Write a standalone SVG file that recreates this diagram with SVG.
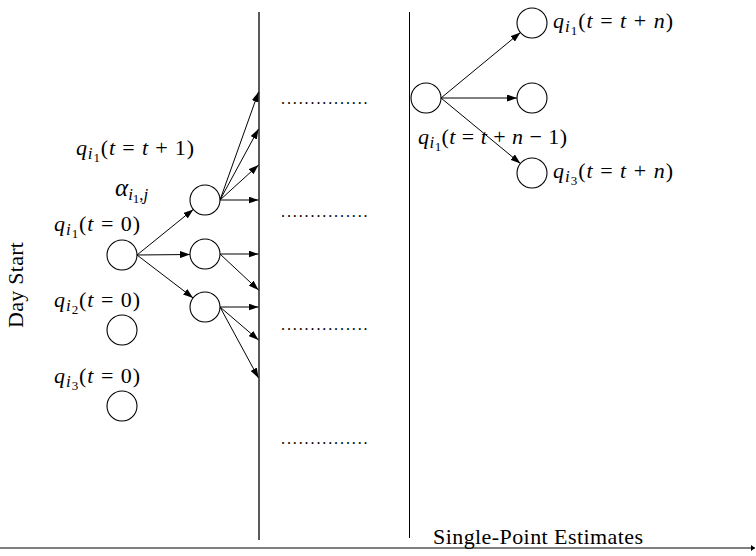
<svg xmlns="http://www.w3.org/2000/svg" width="756" height="556" viewBox="0 0 756 556">
<defs>
<marker id="ah" markerUnits="userSpaceOnUse" markerWidth="10" markerHeight="7" refX="10" refY="3.5" orient="auto"><path d="M0,0 L10,3.5 L0,7 z" fill="#000"/></marker>
<marker id="ahs" markerUnits="userSpaceOnUse" markerWidth="4" markerHeight="6" refX="4" refY="3" orient="auto"><path d="M0,0 L4,3 L0,6 z" fill="#000"/></marker>
<style>
text{font-family:"Liberation Serif","DejaVu Serif",serif;fill:#000;font-size:22px}
.i{font-style:italic}
.s1{font-size:17px}
.s2{font-size:13px}
.dots{font-size:16px;letter-spacing:1.9px}
.n{fill:#fff;stroke:#000;stroke-width:1.1}
.c{stroke:#000;stroke-width:1;fill:none;marker-end:url(#ah)}
.ln{stroke:#000;fill:none}
</style>
</defs>
<rect width="756" height="556" fill="#fff"/>
<g id="axes">
<line class="ln" x1="259" y1="12" x2="259" y2="540" stroke-width="1.3"/>
<line class="ln" x1="409.5" y1="12" x2="409.5" y2="538" stroke-width="1" stroke="#444"/>
<line class="ln" x1="0" y1="548" x2="755" y2="548" stroke-width="1.2" marker-end="url(#ahs)"/>
</g>
<g id="connectors">
<line class="c" x1="137" y1="255" x2="193.3" y2="209.4"/>
<line class="c" x1="137" y1="255" x2="190" y2="254.5"/>
<line class="c" x1="137" y1="255" x2="193.1" y2="297.9"/>
<line class="c" x1="220" y1="200" x2="258.5" y2="92"/>
<line class="c" x1="220" y1="200" x2="258.5" y2="129"/>
<line class="c" x1="220" y1="200" x2="258.5" y2="165"/>
<line class="c" x1="220" y1="200" x2="258.5" y2="200"/>
<line class="c" x1="220" y1="254" x2="258.5" y2="254"/>
<line class="c" x1="220" y1="254" x2="258.5" y2="290"/>
<line class="c" x1="220" y1="307" x2="258.5" y2="307"/>
<line class="c" x1="220" y1="307" x2="258.5" y2="340"/>
<line class="c" x1="220" y1="307" x2="258.5" y2="378"/>
<line class="c" x1="441" y1="98" x2="520.4" y2="32.5"/>
<line class="c" x1="441" y1="98" x2="517" y2="98"/>
<line class="c" x1="441" y1="98" x2="520.4" y2="163.5"/>
</g>
<g id="nodeA"><circle class="n" cx="122" cy="255" r="15"/></g>
<g id="nodeA2"><circle class="n" cx="122" cy="330" r="15"/></g>
<g id="nodeA3"><circle class="n" cx="122" cy="406" r="15"/></g>
<g id="nodeB1"><circle class="n" cx="205" cy="200" r="15"/></g>
<g id="nodeB2"><circle class="n" cx="205" cy="254" r="15"/></g>
<g id="nodeB3"><circle class="n" cx="205" cy="307" r="15"/></g>
<g id="nodeC"><circle class="n" cx="426" cy="98" r="15"/></g>
<g id="nodeD1"><circle class="n" cx="532" cy="23" r="15"/></g>
<g id="nodeD2"><circle class="n" cx="532" cy="98" r="15"/></g>
<g id="nodeD3"><circle class="n" cx="532" cy="173" r="15"/></g>
<g id="labels">
<text transform="translate(23,285) rotate(-90)" text-anchor="middle" textLength="86" lengthAdjust="spacing">Day Start</text>
<text x="433" y="544" textLength="210" lengthAdjust="spacing">Single-Point Estimates</text>
<text x="76" y="155" textLength="118" lengthAdjust="spacing"><tspan class="i">q</tspan><tspan class="i s1" dy="4">i</tspan><tspan class="s2" dy="3">1</tspan><tspan dy="-7">(</tspan><tspan class="i">t</tspan> = <tspan class="i">t</tspan> + 1)</text>
<text x="115" y="196"><tspan class="i" font-size="25">α</tspan><tspan class="i s1" dy="4">i</tspan><tspan class="s2" dy="3">1</tspan><tspan class="s1" dy="-3">,</tspan><tspan class="i s1">j</tspan></text>
<text x="54" y="231" textLength="86" lengthAdjust="spacing"><tspan class="i">q</tspan><tspan class="i s1" dy="4">i</tspan><tspan class="s2" dy="3">1</tspan><tspan dy="-7">(</tspan><tspan class="i">t</tspan> = 0)</text>
<text x="54" y="307" textLength="86" lengthAdjust="spacing"><tspan class="i">q</tspan><tspan class="i s1" dy="4">i</tspan><tspan class="s2" dy="3">2</tspan><tspan dy="-7">(</tspan><tspan class="i">t</tspan> = 0)</text>
<text x="54" y="383" textLength="86" lengthAdjust="spacing"><tspan class="i">q</tspan><tspan class="i s1" dy="4">i</tspan><tspan class="s2" dy="3">3</tspan><tspan dy="-7">(</tspan><tspan class="i">t</tspan> = 0)</text>
<text x="553" y="28" textLength="120" lengthAdjust="spacing"><tspan class="i">q</tspan><tspan class="i s1" dy="4">i</tspan><tspan class="s2" dy="3">1</tspan><tspan dy="-7">(</tspan><tspan class="i">t</tspan> = <tspan class="i">t</tspan> + <tspan class="i">n</tspan>)</text>
<text x="553" y="178" textLength="120" lengthAdjust="spacing"><tspan class="i">q</tspan><tspan class="i s1" dy="4">i</tspan><tspan class="s2" dy="3">3</tspan><tspan dy="-7">(</tspan><tspan class="i">t</tspan> = <tspan class="i">t</tspan> + <tspan class="i">n</tspan>)</text>
<text x="418" y="144" textLength="149" lengthAdjust="spacing"><tspan class="i">q</tspan><tspan class="i s1" dy="4">i</tspan><tspan class="s2" dy="3">1</tspan><tspan dy="-7">(</tspan><tspan class="i">t</tspan> = <tspan class="i">t</tspan> + <tspan class="i">n</tspan> − 1)</text>
<text class="dots" x="281" y="104">...............</text>
<text class="dots" x="281" y="217">...............</text>
<text class="dots" x="281" y="330">...............</text>
<text class="dots" x="281" y="444">...............</text>
</g>
</svg>
